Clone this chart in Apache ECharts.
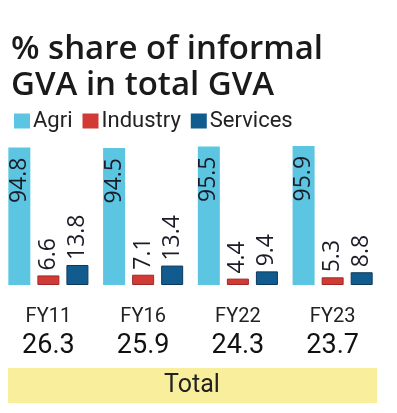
<!DOCTYPE html>
<html>
<head>
<meta charset="utf-8">
<script src="https://cdn.jsdelivr.net/npm/echarts@6/dist/echarts.min.js"></script>
<style>
  html, body { margin: 0; padding: 0; background: #fff; }
  #chart { width: 397px; height: 413px; }
</style>
</head>
<body>
<div id="chart"></div>
<script>
// 数据
const years = ['FY11', 'FY16', 'FY22', 'FY23'];
const agri = [94.8, 94.5, 95.5, 95.9];
const industry = [6.6, 7.1, 4.4, 5.3];
const services = [13.8, 13.4, 9.4, 8.8];
const totals = [26.3, 25.9, 24.3, 23.7];

const NARROW = "Roboto, sans-serif";
const LABEL_FONT = "'Open Sans', sans-serif";

const chart = echarts.init(document.getElementById('chart'));

// 小柱子的标签：竖排，放在柱顶上方
const smallLabel = {
    show: true,
    position: 'top',
    rotate: 90,
    align: 'left',
    verticalAlign: 'middle',
    distance: 5,
    fontFamily: LABEL_FONT,
    fontSize: 23,
    color: '#1c1c28'
};

chart.setOption({
    animation: false,
    title: {
        text: '% share of informal\nGVA in total GVA',
        left: 6,
        top: 27,
        textStyle: {
            fontFamily: LABEL_FONT,
            fontWeight: 600,
            fontSize: 33,
            lineHeight: 36,
            color: '#1a1a1a'
        }
    },
    legend: {
        data: ['Agri', 'Industry', 'Services'],
        left: 9,
        top: 105,
        itemWidth: 16,
        itemHeight: 15,
        itemGap: 10,
        icon: 'rect',
        itemStyle: { borderWidth: 0 },
        textStyle: { fontFamily: NARROW, fontSize: 22, color: '#222', padding: [0, 0, 0, -2] }
    },
    grid: { left: 1, width: 379, top: 140, height: 145 },
    xAxis: {
        type: 'category',
        data: years,
        axisLine: { show: false },
        axisTick: { show: false },
        axisLabel: {
            margin: 18,
            formatter: (v, i) => `{a|${v}}\n{b|${totals[i]}}`,
            rich: {
                a: { fontFamily: NARROW, fontSize: 20, lineHeight: 27, color: '#222' },
                b: { fontFamily: NARROW, fontSize: 27, lineHeight: 32, color: '#111' }
            }
        }
    },
    yAxis: { type: 'value', min: 0, max: 100, show: false },
    series: [
        {
            name: 'Agri',
            type: 'bar',
            data: agri,
            barWidth: 22,
            barGap: '32%',
            itemStyle: { color: '#5cc6e2' },
            label: {
                show: true,
                position: 'insideTop',
                rotate: 90,
                align: 'right',
                verticalAlign: 'middle',
                distance: 10,
                fontFamily: LABEL_FONT,
                fontSize: 23,
                color: '#1c1c28'
            }
        },
        {
            name: 'Industry',
            type: 'bar',
            data: industry,
            barWidth: 22,
            itemStyle: { color: '#d23a36', borderColor: '#9e2a28', borderWidth: 1 },
            label: smallLabel
        },
        {
            name: 'Services',
            type: 'bar',
            data: services,
            barWidth: 22,
            itemStyle: { color: '#125b8e', borderColor: '#0c3a5c', borderWidth: 1 },
            label: smallLabel
        }
    ],
    graphic: [
        {
            type: 'rect',
            shape: { x: 8, y: 368, width: 369, height: 35 },
            style: { fill: '#f9ee9c' }
        },
        {
            type: 'text',
            x: 192,
            y: 386,
            style: {
                text: 'Total',
                fontFamily: NARROW,
                fontSize: 25,
                fill: '#222',
                align: 'center',
                verticalAlign: 'middle'
            }
        }
    ]
});

window.addEventListener('resize', function() {
    chart.resize();
});
</script>
</body>
</html>
